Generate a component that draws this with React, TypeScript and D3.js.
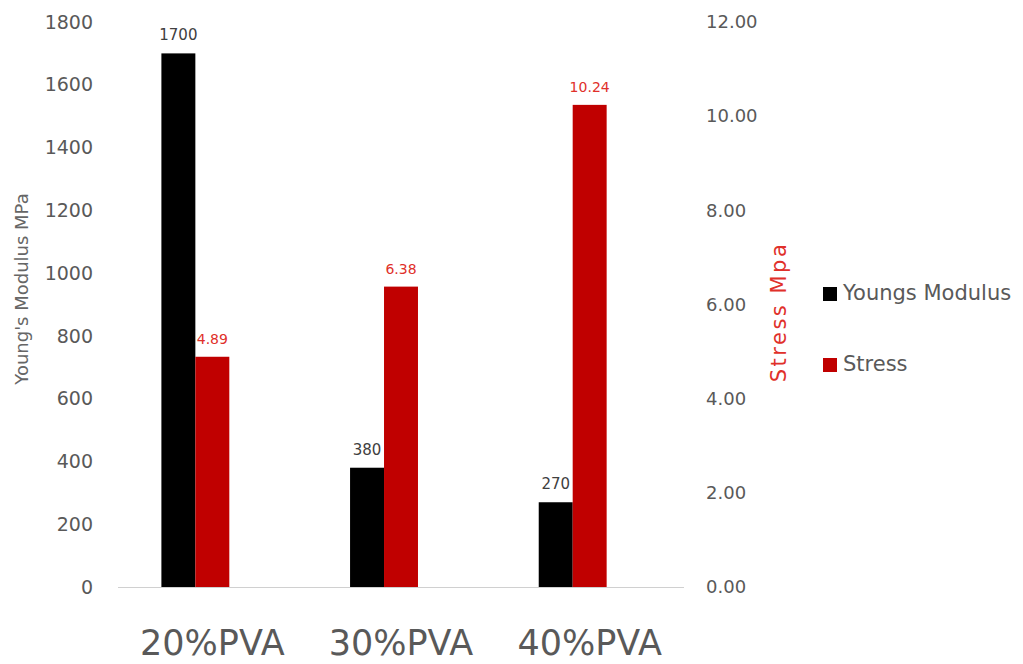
import React from "react";
import * as d3 from "d3";

// Chart data
const categories = ["20%PVA", "30%PVA", "40%PVA"];
const seriesNames = ["Youngs Modulus", "Stress"];
const youngsModulus = [1700, 380, 270];
const stress = [4.89, 6.38, 10.24];
const leftTicks = [0, 200, 400, 600, 800, 1000, 1200, 1400, 1600, 1800];
const rightTicks = [0, 2, 4, 6, 8, 10, 12];

const W = 1023;
const H = 664;
const FONT = "'DejaVu Sans', sans-serif";
const GRAY = "#595959";
const RED_BAR = "#C00000";
const RED_TEXT = "#E0302A";

export default function App() {
  const plotLeft = 118;
  const plotRight = 684;
  const plotTop = 22;
  const plotBottom = 587;

  const x0 = d3
    .scaleBand<string>()
    .domain(categories)
    .range([plotLeft, plotRight])
    .paddingInner(0.46)
    .paddingOuter(0.23);
  // three slots per group; the third stays empty
  const x1 = d3
    .scaleBand<number>()
    .domain([0, 1, 2])
    .range([0, x0.bandwidth()]);

  const yLeft = d3.scaleLinear().domain([0, 1800]).range([plotBottom, plotTop]);
  const yRight = d3.scaleLinear().domain([0, 12]).range([plotBottom, plotTop]);

  const series = [
    { name: seriesNames[0], values: youngsModulus, y: yLeft, fill: "#000000", labelColor: "#404040", fmt: (v: number) => d3.format("d")(v) },
    { name: seriesNames[1], values: stress, y: yRight, fill: RED_BAR, labelColor: RED_TEXT, fmt: (v: number) => d3.format(".2f")(v) },
  ];

  return (
    <svg width={W} height={H} style={{ position: "absolute", left: 0, top: 0, background: "#fff" }} fontFamily={FONT}>
      <rect width={W} height={H} fill="#fff" />

      {/* left axis tick labels */}
      {leftTicks.map((t) => (
        <text key={"l" + t} x={93} y={yLeft(t)} dy="0.35em" textAnchor="end" fontSize={19} fill={GRAY}>
          {t}
        </text>
      ))}

      {/* right axis tick labels */}
      {rightTicks.map((t) => (
        <text key={"r" + t} x={706} y={yRight(t)} dy="0.35em" textAnchor="start" fontSize={18} fill={GRAY}>
          {d3.format(".2f")(t)}
        </text>
      ))}

      {/* bars and value labels */}
      {categories.map((c, i) => (
        <g key={c} transform={`translate(${x0(c)},0)`}>
          {series.map((s, si) => {
            const v = s.values[i];
            const bx = x1(si) as number;
            const bw = x1.bandwidth();
            const top = s.y(v);
            return (
              <g key={s.name}>
                <rect x={bx} y={top} width={bw} height={plotBottom - top} fill={s.fill} />
                <text x={bx + bw / 2} y={top - 13} textAnchor="middle" fontSize={si === 0 ? 15 : 14} fill={s.labelColor}>
                  {s.fmt(v)}
                </text>
              </g>
            );
          })}
        </g>
      ))}

      {/* baseline */}
      <line x1={plotLeft} x2={plotRight} y1={plotBottom + 0.5} y2={plotBottom + 0.5} stroke="#D0D0D0" strokeWidth={1} />

      {/* category labels */}
      {categories.map((c) => (
        <text key={"c" + c} x={(x0(c) as number) + x0.bandwidth() / 2} y={655} textAnchor="middle" fontSize={35} fill={GRAY}>
          {c}
        </text>
      ))}

      {/* axis titles */}
      <text transform="translate(28,289) rotate(-90)" textAnchor="middle" fontSize={18} fill="#666666">
        Young's Modulus MPa
      </text>
      <text transform="translate(786,312) rotate(-90)" textAnchor="middle" fontSize={21} letterSpacing={2.5} fill={RED_TEXT}>
        Stress Mpa
      </text>

      {/* legend */}
      {series.map((s, i) => (
        <g key={"lg" + s.name} transform={`translate(823,${i === 0 ? 287 : 358})`}>
          <rect x={0} y={0} width={14} height={14} fill={s.fill} />
          <text x={20} y={13} fontSize={21} fill={GRAY}>
            {s.name}
          </text>
        </g>
      ))}
    </svg>
  );
}
